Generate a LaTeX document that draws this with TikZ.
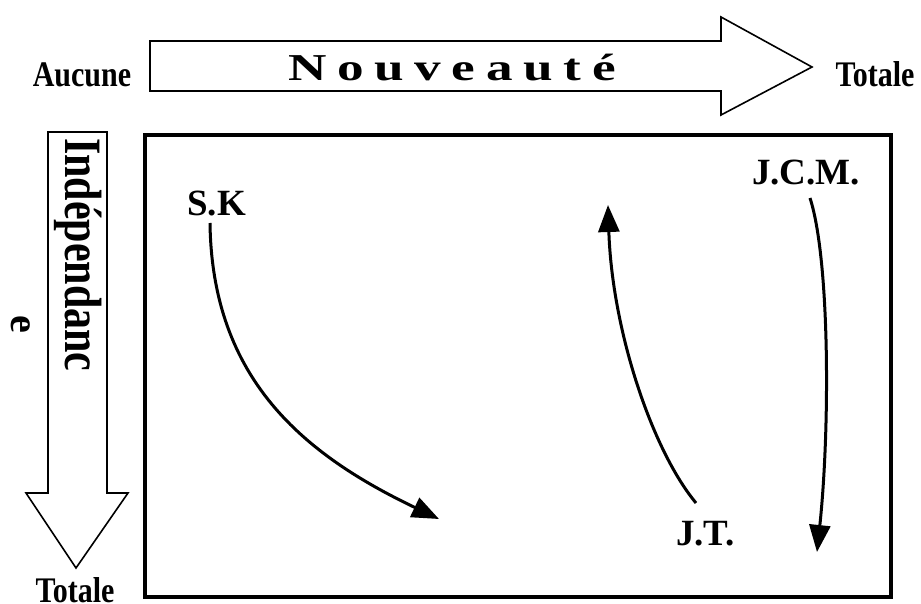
\documentclass[tikz,border=0pt]{standalone}
\usepackage{fontspec}
\setmainfont{Liberation Serif}
\usetikzlibrary{arrows.meta}
\newcommand{\gsp}{\hspace{7.6pt}}
\tikzset{
  outline/.style={draw=black, line width=1.6pt, fill=white, line join=miter},
  frame/.style={draw=black, line width=3.2pt},
  lbl/.style={inner sep=0pt, font=\bfseries\fontsize{37}{37}\selectfont, anchor=base west},
  axis/.style={inner sep=0pt, font=\bfseries\fontsize{30}{30}\selectfont, anchor=base},
  trend/.style={draw=black, line width=3pt, -{Triangle[length=27pt,width=21pt]}},
}
\begin{document}
\begin{tikzpicture}[x=1pt, y=-1pt]
\useasboundingbox (0,0) rectangle (921,604);
% top arrow
\draw[outline] (150,41) -- (721,41) -- (721,17) -- (812,67) -- (721,115) -- (721,91) -- (150,91) -- cycle;
% left arrow
\draw[outline] (48,132) -- (107,132) -- (107,493) -- (128,493) -- (76,568) -- (26,493) -- (48,493) -- cycle;
% main frame
\draw[frame] (145,135) rectangle (891,597);
% axis labels
\node[axis] (aucune) at (82,87) {\scalebox{1}[1.2]{Aucune}};
\node[axis] (totaleH) at (875,87) {\scalebox{1}[1.2]{Totale}};
\node[axis] (totaleV) at (75,602) {\scalebox{1}[1.2]{Totale}};
\node[inner sep=0pt, anchor=base west, font=\bfseries\fontsize{38}{38}\selectfont] (nouv) at (288,81)
  {\scalebox{1.4}[1]{N\gsp o\gsp u\gsp v\gsp e\gsp a\gsp u\gsp t\gsp é}};
\node[inner sep=0pt, anchor=base west, rotate=-90, font=\bfseries\fontsize{42}{42}\selectfont] (indep) at (65,138) {\scalebox{1}[1.25]{Indépendanc}};
\node[inner sep=0pt, anchor=base west, rotate=-90, font=\bfseries\fontsize{40}{40}\selectfont] (indepe) at (12,315) {e};
% people
\node[lbl] (sk) at (187,215) {S.K};
\node[lbl] (jt) at (676,545) {J.T.};
\node[lbl] (jcm) at (752,185) {J.C.M.};
\coordinate (skS) at (210,223);
\coordinate (skE) at (439,519);
\coordinate (jtS) at (696,503);
\coordinate (jtE) at (608,205);
\coordinate (jcmS) at (810,198);
\coordinate (jcmE) at (817,552);
\draw[trend] (skS) .. controls (212,380) and (305,455) .. (skE);
\draw[trend] (jtS) .. controls (652,450) and (612,330) .. (jtE);
\draw[trend] (jcmS) .. controls (830,260) and (830,430) .. (jcmE);
\end{tikzpicture}
\end{document}
